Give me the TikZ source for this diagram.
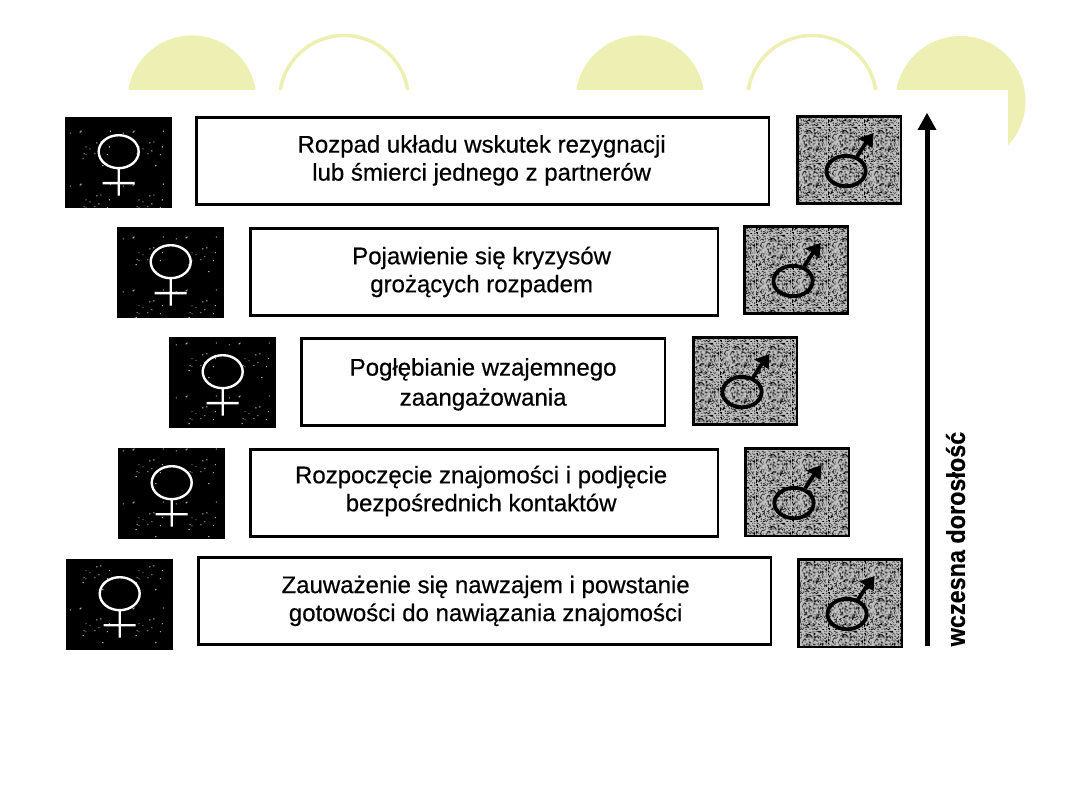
\documentclass[tikz,border=0pt]{standalone}
\usepackage{fontspec}
\setmainfont{Liberation Sans}
\newfontfamily\printfont[FakeBold=0.5]{Liberation Sans}
\newfontfamily\axisfont[FakeBold=0.5]{Liberation Sans Bold}
\usetikzlibrary{patterns,calc}
\definecolor{palelime}{RGB}{237,240,178}
% Speckled halftone tile for the shaded squares
\pgfdeclarepatternformonly{grain}{\pgfqpoint{0pt}{0pt}}{\pgfqpoint{36pt}{36pt}}{\pgfqpoint{36pt}{36pt}}{%
  \pgfmathsetseed{4711}%
  \foreach \i in {1,...,500}{%
    \pgfmathrandominteger{\gx}{0}{35}%
    \pgfmathrandominteger{\gy}{0}{35}%
    \pgfpathrectangle{\pgfqpoint{\gx pt}{\gy pt}}{\pgfqpoint{0.8pt}{0.8pt}}%
  }%
  \pgfusepath{fill}%
}
% Sparse white flecks on the black squares
\pgfdeclarepatternformonly{flecks}{\pgfqpoint{0pt}{0pt}}{\pgfqpoint{53pt}{53pt}}{\pgfqpoint{53pt}{53pt}}{%
  \pgfmathsetseed{271}%
  \foreach \i in {1,...,16}{%
    \pgfmathrandominteger{\gx}{0}{52}%
    \pgfmathrandominteger{\gy}{0}{52}%
    \pgfpathrectangle{\pgfqpoint{\gx pt}{\gy pt}}{\pgfqpoint{0.9pt}{0.9pt}}%
  }%
  \pgfusepath{fill}%
}
\tikzset{
  stage/.style={draw=black,line width=2.8pt,fill=white,anchor=north west,inner sep=0pt,minimum height=87pt},
  stagetext/.style={inner sep=0pt,align=center,font=\printfont\fontsize{24}{28}\selectfont},
  venus/.style={fill=black,anchor=north west,inner sep=0pt,minimum width=107pt,minimum height=91pt},
  mars/.style={draw=black,line width=2.6pt,anchor=north west,inner sep=0pt,minimum width=103.5pt,minimum height=87.5pt,
    fill=gray!50,postaction={pattern=grain,pattern color=black}},
  dome/.style={fill=palelime},
  ring/.style={draw=palelime,line width=3.5pt},
  pics/femalesign/.style={code={
    \draw[white,line width=2.4pt] (0,-11) ellipse (20pt and 16.5pt) (0,5.5) -- (0,33) (-16,20.5) -- (16,20.5);
  }},
  pics/malesign/.style={code={
    \draw[black,line width=3.8pt] (-3,11) ellipse (19.6pt and 15.2pt);
    \draw[black,line width=3.8pt] (8,-3.5) -- (18,-19);
    \fill[black] (24.5,-27) -- (9,-21.5) -- (15.5,-18) -- (20,-14) -- (23.5,-12) -- cycle;
  }},
}
\begin{document}
\begin{tikzpicture}[x=1pt,y=-1pt]
\useasboundingbox (0,0) rectangle (1080,810);

% Header ornaments
\begin{scope}
  \clip (100,0) rectangle (1080,90);
  \fill[dome] (192,100) circle (64.5);
  \fill[dome] (640,100) circle (64.5);
  \draw[ring] (344,100) circle (64.5);
  \draw[ring] (812,100) circle (64.5);
\end{scope}
\begin{scope}
  \clip (880,0) rectangle (1080,90) (1008,90) rectangle (1080,160);
  \fill[dome] (960.5,101) circle (65);
\end{scope}

% Stage boxes, bottom row first
\node[stage,minimum width=572.5pt] (s1) at (197,556) {};
\node[stage,minimum width=467.5pt] (s2) at (249,448) {};
\node[stage,minimum width=363.5pt] (s3) at (300,337) {};
\node[stage,minimum width=467.5pt] (s4) at (249,227) {};
\node[stage,minimum width=572.5pt] (s5) at (195,116) {};

% Captions inside the stage boxes
\node[stagetext] (t1) at ($(s1.center)+(1,0)$)
  {Zauważenie się nawzajem i powstanie\\gotowości do nawiązania znajomości};
\node[stagetext] (t2) at ($(s2.center)+(-3,-2)$)
  {Rozpoczęcie znajomości i podjęcie\\bezpośrednich kontaktów};
\node[stagetext,font=\printfont\fontsize{24}{30}\selectfont] (t3) at ($(s3.center)+(0,2.5)$)
  {Pogłębianie wzajemnego\\zaangażowania};
\node[stagetext] (t4) at ($(s4.center)+(-2.5,0)$)
  {Pojawienie się kryzysów\\grożących rozpadem};
\node[stagetext] (t5) at ($(s5.center)+(-1,-0.5)$)
  {Rozpad układu wskutek rezygnacji\\lub śmierci jednego z partnerów};

% Female squares
\foreach \nm/\px/\py in {f1/66/559,f2/118/448,f3/169/337,f4/117/227,f5/65/117}{
  \node[venus] (\nm) at (\px,\py) {};
  \fill[pattern=flecks,pattern color=white] (\nm.north west) rectangle (\nm.south east);
  \pic at (\nm.center) {femalesign};
}

% Male squares
\foreach \nm/\px/\py in {m1/797/558,m2/744/447,m3/692/336,m4/743/225,m5/796/115}{
  \node[mars] (\nm) at (\px,\py) {};
  \pic at (\nm.center) {malesign};
}

% Time axis
\coordinate (axisfoot) at (927,646);
\coordinate (axishead) at (927,113);
\draw[black,line width=5pt] (axisfoot) -- ($(axishead)+(0,14)$);
\fill[black] (axishead) -- (936.5,130) -- (917.5,130) -- cycle;
\node[rotate=90,font=\axisfont\fontsize{26}{28}\selectfont,xscale=0.9,inner sep=0pt] (axislabel) at (955.5,539) {wczesna dorosłość};
\end{tikzpicture}
\end{document}
